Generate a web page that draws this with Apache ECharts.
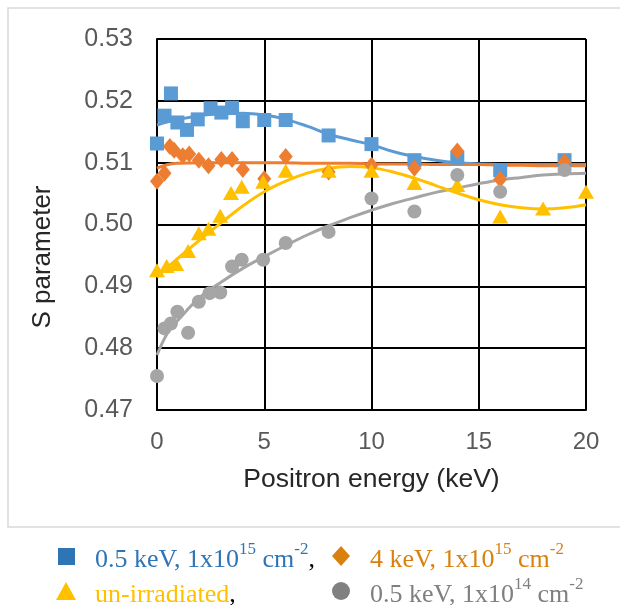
<!DOCTYPE html>
<html>
<head>
<meta charset="utf-8">
<script src="https://cdn.jsdelivr.net/npm/echarts@6/dist/echarts.min.js"></script>
<style>
  html, body { margin: 0; padding: 0; background: #ffffff; }
  #chart { width: 620px; height: 605px; }
</style>
</head>
<body>
<div id="chart"></div>
<script>
// Axis ranges and ticks
const xMin = 0, xMax = 20, xStep = 5;
const yMin = 0.47, yMax = 0.53, yStep = 0.01;

// 0.5 keV, 1x10^15 cm^-2
const energyBlue = [0, 0.35, 0.65, 0.95, 1.4, 1.9, 2.5, 3.0, 3.5, 4.0, 5.0, 6.0, 8.0, 10.0, 12.0, 14.0, 16.0, 19.0];
const sBlue      = [0.5131, 0.5176, 0.5212, 0.5165, 0.5153, 0.5170, 0.5188, 0.5181, 0.5189, 0.5167, 0.5169, 0.5169, 0.5144, 0.5130, 0.5104, 0.5108, 0.5088, 0.5104];

// 4 keV, 1x10^15 cm^-2
const energyOrange = [0, 0.35, 0.6, 0.8, 1.2, 1.5, 1.95, 2.4, 3.0, 3.5, 4.0, 5.0, 6.0, 8.0, 10.0, 12.0, 14.0, 16.0, 19.0];
const sOrange      = [0.5070, 0.5083, 0.5126, 0.5120, 0.5111, 0.5114, 0.5104, 0.5095, 0.5105, 0.5105, 0.5089, 0.5074, 0.5110, 0.5085, 0.5096, 0.5091, 0.5119, 0.5073, 0.5101];

// un-irradiated
const energyYellow = [0, 0.45, 0.9, 1.45, 1.95, 2.4, 2.95, 3.45, 3.95, 4.95, 6.0, 8.0, 10.0, 12.0, 14.0, 16.0, 18.0, 20.0];
const sYellow      = [0.4926, 0.4933, 0.4936, 0.4957, 0.4986, 0.4993, 0.5014, 0.5051, 0.5061, 0.5069, 0.5087, 0.5087, 0.5087, 0.5067, 0.5064, 0.5013, 0.5026, 0.5053];

// 0.5 keV, 1x10^14 cm^-2
const energyGray = [0, 0.35, 0.65, 0.95, 1.45, 1.95, 2.45, 2.95, 3.5, 3.95, 4.95, 6.0, 8.0, 10.0, 12.0, 14.0, 16.0, 19.0];
const sGray      = [0.4755, 0.4832, 0.4840, 0.4859, 0.4825, 0.4875, 0.4889, 0.4890, 0.4932, 0.4943, 0.4943, 0.4970, 0.4988, 0.5042, 0.5021, 0.5080, 0.5053, 0.5088];

// Trend curves sampled along the energy range
const fitEnergy = [0, 0.5, 1, 2, 3, 4, 5, 6, 7, 8, 9, 10, 11, 12, 13, 14, 15, 16, 17, 18, 19, 20];
const fitBlue   = [0.5161, 0.5166, 0.5170, 0.5176, 0.5179, 0.5180, 0.5177, 0.5170, 0.5159, 0.5146, 0.5137, 0.5129, 0.5118, 0.5110, 0.5104, 0.5100, 0.5098, 0.5097, 0.5097, 0.5097, 0.5097, 0.5097];
const fitOrange = [0.5091, 0.5097, 0.5099, 0.5100, 0.5100, 0.5100, 0.5100, 0.5100, 0.5099, 0.5099, 0.5099, 0.5098, 0.5098, 0.5098, 0.5097, 0.5097, 0.5097, 0.5096, 0.5096, 0.5095, 0.5095, 0.5095];
const fitYellow = [0.4915, 0.4931, 0.4946, 0.4975, 0.5003, 0.5030, 0.5053, 0.5070, 0.5083, 0.5091, 0.5094, 0.5092, 0.5085, 0.5075, 0.5063, 0.5051, 0.5040, 0.5032, 0.5027, 0.5025, 0.5027, 0.5032];
const fitGray   = [0.4789, 0.4825, 0.4846, 0.4882, 0.4907, 0.4929, 0.4948, 0.4966, 0.4983, 0.4998, 0.5011, 0.5023, 0.5034, 0.5043, 0.5052, 0.5059, 0.5066, 0.5072, 0.5076, 0.5080, 0.5082, 0.5083];

const colBlue = '#5B9BD5', colOrange = '#ED7D31', colYellow = '#FFC000', colGray = '#A5A5A5';

const pairs = (xs, ys) => xs.map((x, i) => [x, ys[i]]);

function fitSeries(ys, color) {
  return {
    type: 'line', data: pairs(fitEnergy, ys), smooth: 0.4, showSymbol: false,
    symbol: 'none', silent: true, z: 2,
    lineStyle: { color: color, width: 3 }
  };
}
function pointSeries(name, xs, ys, symbol, size, color, z) {
  return {
    name: name, type: 'scatter', data: pairs(xs, ys), symbol: symbol,
    symbolSize: size, itemStyle: { color: color, opacity: 1 }, z: z
  };
}

const sansFont = '"Liberation Sans", Arial, sans-serif';
const serifFont = '"Liberation Serif", "Times New Roman", serif';
const legendRich = (color) => ({
  m: { fontFamily: serifFont, fontSize: 26, fill: color, lineHeight: 32, verticalAlign: 'bottom' },
  s: { fontFamily: serifFont, fontSize: 17, fill: color, lineHeight: 22, verticalAlign: 'top' },
  k: { fontFamily: serifFont, fontSize: 26, fill: '#000000', lineHeight: 32, verticalAlign: 'bottom' }
});

const chart = echarts.init(document.getElementById('chart'), null, { renderer: 'canvas' });
chart.setOption({
  backgroundColor: '#ffffff',
  animation: false,
  grid: { left: 157, top: 39, width: 429, height: 371, containLabel: false },
  xAxis: {
    type: 'value', min: xMin, max: xMax, interval: xStep,
    name: 'Positron energy (keV)', nameLocation: 'middle', nameGap: 56,
    nameTextStyle: { fontFamily: sansFont, fontSize: 26.5, color: '#262626' },
    axisLine: { show: true, lineStyle: { color: '#000000', width: 2 } },
    axisTick: { show: false },
    axisLabel: { margin: 20, fontFamily: sansFont, fontSize: 24, color: '#595959' },
    splitLine: { show: true, lineStyle: { color: '#000000', width: 2 } }
  },
  yAxis: {
    type: 'value', min: yMin, max: yMax, interval: yStep,
    axisLine: { show: true, lineStyle: { color: '#000000', width: 2 } },
    axisTick: { show: false },
    axisLabel: {
      margin: 24, fontFamily: sansFont, fontSize: 25, color: '#595959',
      formatter: (v) => v.toFixed(2)
    },
    splitLine: { show: true, lineStyle: { color: '#000000', width: 2 } }
  },
  series: [
    fitSeries(fitBlue, colBlue),
    fitSeries(fitGray, colGray),
    fitSeries(fitYellow, colYellow),
    fitSeries(fitOrange, colOrange),
    pointSeries('0.5 keV, 1x10^15 cm^-2', energyBlue, sBlue, 'rect', 14, colBlue, 3),
    pointSeries('4 keV, 1x10^15 cm^-2', energyOrange, sOrange, 'diamond', [14, 17], colOrange, 4),
    pointSeries('un-irradiated', energyYellow, sYellow, 'triangle', [16, 14], colYellow, 5),
    pointSeries('0.5 keV, 1x10^14 cm^-2', energyGray, sGray, 'circle', 14, colGray, 6)
  ],
  graphic: [
    // outer chart frame
    { type: 'rect', shape: { x: 8, y: 8, width: 640, height: 519 }, style: { fill: null, stroke: '#D9D9D9', lineWidth: 1.5 }, silent: true, z: -1 },
    // y-axis title
    { type: 'text', x: 43, y: 257, rotation: Math.PI / 2,
      style: { text: 'S parameter', fontFamily: sansFont, fontSize: 26, fill: '#262626', align: 'center', verticalAlign: 'middle' } },
    // legend row 1
    { type: 'rect', shape: { x: 58, y: 548, width: 17, height: 17 }, style: { fill: '#2E75B6' } },
    { type: 'text', x: 95, y: 557,
      style: { text: '{m|0.5 keV, 1x10}{s|15}{m| cm}{s|-2}{k|,}', verticalAlign: 'middle', rich: legendRich('#2E75B6') } },
    { type: 'polygon', shape: { points: [[341, 546], [350, 556], [341, 566], [332, 556]] }, style: { fill: '#D9800E' } },
    { type: 'text', x: 370, y: 557,
      style: { text: '{m|4 keV, 1x10}{s|15}{m| cm}{s|-2}', verticalAlign: 'middle', rich: legendRich('#D9800E') } },
    // legend row 2
    { type: 'polygon', shape: { points: [[66, 582], [76, 600], [56, 600]] }, style: { fill: '#FFC000' } },
    { type: 'text', x: 95, y: 592,
      style: { text: '{m|un-irradiated}{k|,}', verticalAlign: 'middle', rich: legendRich('#FFC000') } },
    { type: 'circle', shape: { cx: 341, cy: 591, r: 9 }, style: { fill: '#808080' } },
    { type: 'text', x: 370, y: 592,
      style: { text: '{m|0.5 keV, 1x10}{s|14}{m| cm}{s|-2}', verticalAlign: 'middle', rich: legendRich('#7F7F7F') } }
  ]
});
</script>
</body>
</html>
